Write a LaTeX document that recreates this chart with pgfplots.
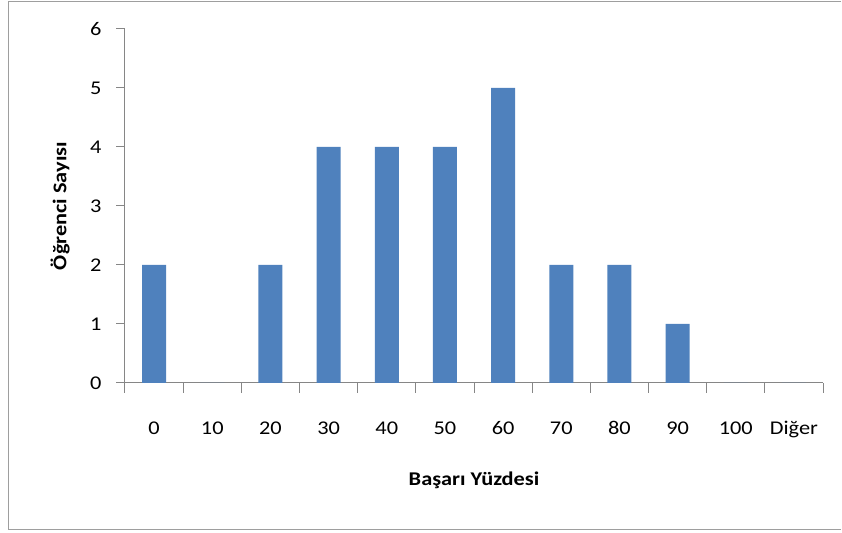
\documentclass[border=0pt]{standalone}
\usepackage{pgfplots}
\pgfplotsset{compat=1.18}
\usepackage{fontspec}
\setmainfont{Carlito}[FakeStretch=1.15]
\definecolor{barblue}{HTML}{4F81BD}
\definecolor{axgray}{HTML}{868686}
\begin{document}
\begin{tikzpicture}[x=1bp,y=1bp]
\useasboundingbox (-125,-150) rectangle (717,383);
\draw[axgray!80, line width=1.5bp] (716,381.5) -- (-116.5,381.5) -- (-116.5,-146.5) -- (716,-146.5);
\begin{axis}[
    at={(0,0)}, anchor=south west,
    scale only axis,
    width=698bp, height=354bp,
    font=\fontsize{19.5}{21}\selectfont,
    xmin=-0.5, xmax=11.5,
    ymin=0, ymax=6,
    axis lines=left,
    axis line style={-, axgray, line width=1bp},
    ytick={0,...,6},
    xtick={0,...,11},
    xticklabels={0,10,20,30,40,50,60,70,80,90,100,Diğer},
    minor xtick={-0.5,0.5,...,11.5},
    major x tick style={draw=none},
    minor tick style={axgray, line width=1bp},
    major tick style={axgray, line width=1bp},
    tick align=outside,
    major tick length=9bp,
    minor tick length=10bp,
    xticklabel style={yshift=-26bp},
    yticklabel style={xshift=-11bp},
    /pgf/number format/assume math mode=true,
    xlabel={\bfseries Başarı Yüzdesi},
    ylabel={\bfseries Öğrenci Sayısı},
    xlabel style={at={(axis description cs:0.5,-0.274)}, anchor=center},
    ylabel style={at={(axis description cs:-0.093,0.5)}, anchor=center},
    ybar, bar width=24bp,
    clip=false,
]
\addplot[fill=barblue, draw=none] coordinates {
    (0,2) (1,0) (2,2) (3,4) (4,4) (5,4)
    (6,5) (7,2) (8,2) (9,1) (10,0) (11,0)
};
\end{axis}
\end{tikzpicture}
\end{document}
